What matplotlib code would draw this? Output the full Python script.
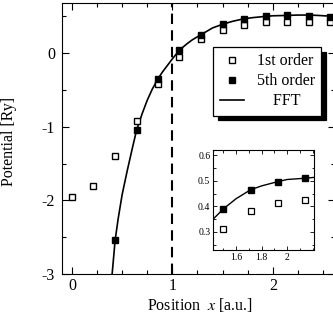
import matplotlib
matplotlib.use("Agg")
import matplotlib.pyplot as plt
import numpy as np

plt.rcParams['font.family'] = ['Liberation Serif', 'DejaVu Serif']
plt.rcParams['mathtext.fontset'] = 'stix'
plt.rcParams['axes.unicode_minus'] = False

# sample positions and values
pos = [0.0, 0.214, 0.429, 0.643, 0.857, 1.071, 1.286, 1.5, 1.714, 1.929, 2.143, 2.357, 2.571]
first_order = [-1.95, -1.80, -1.40, -0.92, -0.42, -0.05, 0.19, 0.31, 0.38, 0.415, 0.425, 0.42, 0.415]
fifth_order = [np.nan, np.nan, -2.54, -1.05, -0.35, 0.04, 0.25, 0.39, 0.465, 0.497, 0.51, 0.505, 0.49]

fft_x = [0.40, 0.43, 0.46, 0.50, 0.55, 0.60, 0.643, 0.70, 0.75, 0.80, 0.857, 0.90, 1.00,
         1.071, 1.15, 1.20, 1.286, 1.35, 1.40, 1.50, 1.60, 1.714, 1.80, 1.929, 2.00,
         2.143, 2.25, 2.357, 2.45, 2.571, 2.62]
fft_y = [-3.00, -2.54, -2.25, -1.92, -1.60, -1.30, -1.05, -0.82, -0.64, -0.49, -0.35, -0.26, -0.08,
         0.04, 0.13, 0.18, 0.25, 0.30, 0.34, 0.39, 0.43, 0.465, 0.48, 0.497, 0.505,
         0.51, 0.515, 0.515, 0.51, 0.50, 0.495]

fig = plt.figure(figsize=(3.33, 3.22), dpi=100)
ax = fig.add_axes([0.186, 0.149, 0.82, 0.842])

ax.plot(fft_x, fft_y, color='black', lw=1.2, label='    FFT', zorder=2)
ax.plot(pos, first_order, 's', mfc='white', mec='black', mew=1.0, ms=5, label='1st order', zorder=3)
ax.plot(pos, fifth_order, 's', mfc='black', mec='black', ms=4.5, label='5th order', zorder=3)
ax.axvline(1.0, color='black', lw=1.5, ls=(0, (5, 3)), zorder=1)

ax.set_xlim(-0.1, 2.62)
ax.set_ylim(-3, 0.68)
ax.set_xticks([0, 1, 2])
ax.set_xticks(np.arange(0, 2.6, 0.25), minor=True)
ax.set_yticks([-3, -2, -1, 0])
ax.set_yticks(np.arange(-3, 0.6, 0.5), minor=True)
ax.tick_params(which='both', direction='in', top=True, right=True, labelsize=11.5)
ax.tick_params(which='major', length=5, width=0.8)
ax.tick_params(which='minor', length=3, width=0.8)
ax.tick_params(axis='x', pad=3)
ax.tick_params(axis='y', pad=5)

ax.set_xlabel(r'Position  $x$ [a.u.]', fontsize=11.5)
ax.set_ylabel('Potential [Ry]', fontsize=11.5)
ax.xaxis.set_label_coords(0.505, -0.082)
ax.yaxis.set_label_coords(-0.165, 0.49)

h, l = ax.get_legend_handles_labels()
order = [1, 2, 0]
leg = ax.legend([h[i] for i in order], [l[i] for i in order], loc='upper right',
                bbox_to_anchor=(0.949, 0.838), borderaxespad=0, fontsize=11.5,
                frameon=True, fancybox=False, edgecolor='black', framealpha=1,
                handlelength=1.5, handletextpad=0.8, labelspacing=0.25,
                borderpad=0.4, shadow={'color': 'black', 'alpha': 1, 'ox': 3.5, 'oy': -3.5})
leg.get_frame().set_linewidth(0.9)

# inset
ins = fig.add_axes([0.640, 0.224, 0.303, 0.310])
ins.plot(fft_x, fft_y, color='black', lw=1.0)
ins.plot(pos, first_order, 's', mfc='white', mec='black', mew=0.9, ms=4)
ins.plot(pos, fifth_order, 's', mfc='black', mec='black', ms=4)
ins.set_xlim(1.42, 2.21)
ins.set_ylim(0.23, 0.62)
ins.set_xticks([1.6, 1.8, 2.0])
ins.set_xticklabels(['1.6', '1.8', '2'])
ins.set_xticks(np.arange(1.5, 2.21, 0.1), minor=True)
ins.set_yticks([0.3, 0.4, 0.5, 0.6])
ins.set_yticks(np.arange(0.25, 0.62, 0.05), minor=True)
ins.tick_params(which='both', direction='in', top=True, right=True, labelsize=7, pad=2)
ins.tick_params(which='major', length=3, width=0.6)
ins.tick_params(which='minor', length=1.8, width=0.6)
for s in ins.spines.values():
    s.set_linewidth(0.8)

fig.savefig('out.png', dpi=100)
